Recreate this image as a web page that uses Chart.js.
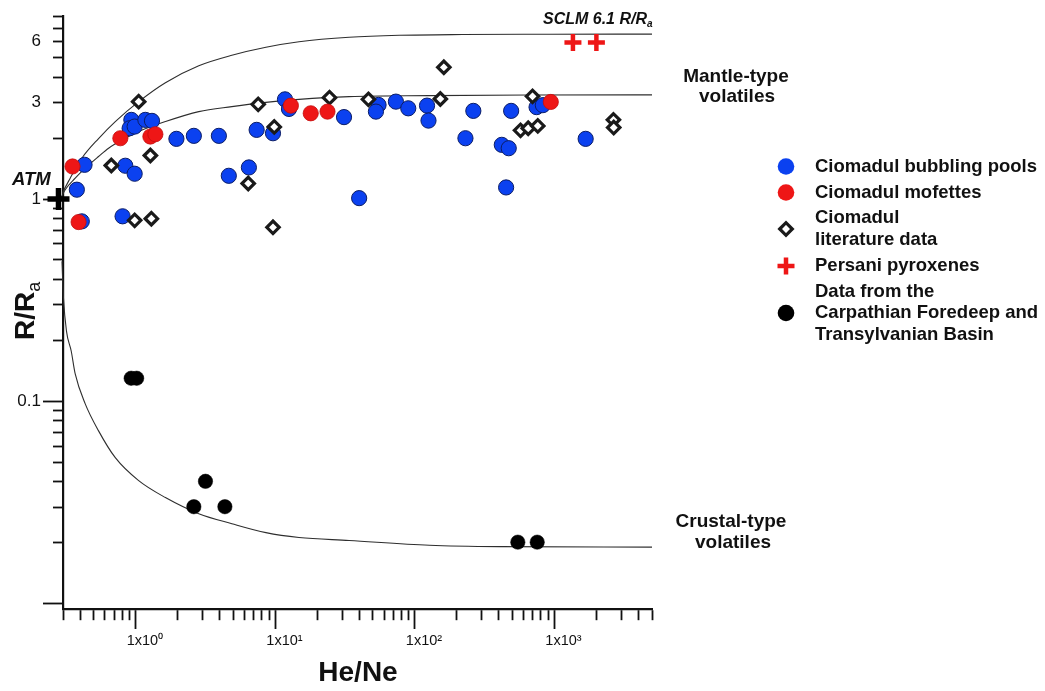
<!DOCTYPE html>
<html>
<head>
<meta charset="utf-8">
<script src="https://cdn.jsdelivr.net/npm/chart.js@4.4.1/dist/chart.umd.min.js"></script>
<style>
  html, body { margin: 0; padding: 0; background: #fff; }
  #wrap { position: relative; width: 1045px; height: 691px; }
</style>
</head>
<body>
<div id="wrap"><canvas id="chart"></canvas></div>
<script>
// He/Ne vs R/Ra values

// Ciomadul bubbling pools
const bubblingX = [0.428, 0.377, 0.409, 0.839, 0.979, 0.802, 0.927, 0.901, 0.979, 1.168, 1.303, 1.95, 2.60, 3.93, 4.63, 6.45, 7.33, 9.6, 11.7, 12.5, 31.0, 54.8, 52.5, 73.0, 89.5, 122, 125, 262, 230, 489, 419, 470, 450, 39.8, 744, 825, 1673];
const bubblingY = [1.478, 1.113, 0.776, 1.462, 1.335, 0.822, 2.465, 2.24, 2.284, 2.465, 2.437, 1.986, 2.055, 2.055, 1.304, 1.434, 2.2, 2.117, 3.114, 2.792, 2.544, 2.922, 2.708, 3.034, 2.812, 2.899, 2.445, 2.731, 2.0, 2.731, 1.855, 1.785, 1.142, 1.011, 2.85, 2.915, 1.986];

// Ciomadul mofettes
const mofetteX = [0.351, 0.388, 0.773, 1.269, 1.378, 12.9, 17.9, 23.6, 941];
const mofetteY = [1.45, 0.77, 2.0, 2.039, 2.093, 2.899, 2.657, 2.708, 3.023];

// Ciomadul literature data
const literatureX = [1.046, 0.666, 1.269, 0.979, 1.290, 7.52, 9.8, 6.38, 9.6, 24.4, 46.4, 152, 161, 696, 571, 648, 759, 2645, 2658];
const literatureY = [3.034, 1.466, 1.643, 0.785, 0.800, 2.942, 2.276, 1.195, 0.725, 3.175, 3.114, 3.128, 4.488, 3.222, 2.188, 2.24, 2.302, 2.465, 2.258];

// Persani pyroxenes
const persaniX = [1356, 1997];
const persaniY = [5.95, 5.95];

// Carpathian Foredeep and Transylvanian Basin
const basinX = [0.924, 1.012, 3.15, 2.60, 4.34, 546, 752];
const basinY = [0.130, 0.130, 0.0402, 0.0301, 0.0301, 0.0201, 0.0201];

// atmosphere
const atmX = [0.2785];
const atmY = [1];

// mixing curves
const sclmCurveX = [0.2877, 0.2973, 0.3379, 0.4093, 0.5395, 0.7112, 1.046, 1.626, 2.821, 4.870, 8.545, 14.75, 33.73, 77.13, 218.7, 922.2, 5000];
const sclmCurveY = [1, 1.067, 1.269, 1.593, 1.993, 2.417, 3.034, 3.765, 4.566, 5.145, 5.634, 5.998, 6.313, 6.458, 6.517, 6.539, 6.546];

const mantleCurveX = [0.2877, 0.3111, 0.3670, 0.4330, 0.5395, 0.6366, 0.8390, 1.046, 1.626, 2.821, 4.870, 8.545, 14.75, 33.73, 126.7, 662.4, 5000];
const mantleCurveY = [1, 1.113, 1.269, 1.422, 1.624, 1.785, 2.0, 2.158, 2.417, 2.708, 2.867, 3.010, 3.114, 3.212, 3.248, 3.273, 3.277];

const crustCurveX = [0.2877, 0.2902, 0.2950, 0.3024, 0.3177, 0.3435, 0.3670, 0.4330, 0.5395, 0.7112, 1.046, 1.626, 2.821, 4.870, 8.545, 14.75, 33.73, 126.7, 403.3, 5000];
const crustCurveY = [1, 0.693, 0.493, 0.3236, 0.2225, 0.1773, 0.1365, 0.0971, 0.0714, 0.0526, 0.0405, 0.0334, 0.0278, 0.0248, 0.0224, 0.0212, 0.0205, 0.0194, 0.0191, 0.0190];

// axis ticks
const xTickValues = [0.3, 0.4, 0.5, 0.6, 0.7, 0.8, 0.9, 1, 2, 3, 4, 5, 6, 7, 8, 9, 10, 20, 30, 40, 50, 60, 70, 80, 90, 100, 200, 300, 400, 500, 600, 700, 800, 900, 1000, 2000, 3000, 4000, 5000];
const xMajorTicks = [1, 10, 100, 1000];
const xTickLabels = ['1x10\u2070', '1x10\u00b9', '1x10\u00b2', '1x10\u00b3'];

const yTickValues = [0.01, 0.02, 0.03, 0.04, 0.05, 0.06, 0.07, 0.08, 0.09, 0.1, 0.2, 0.3, 0.4, 0.5, 0.6, 0.7, 0.8, 0.9, 1, 2, 3, 4, 5, 6, 7, 8];
const yMajorTicks = [0.01, 0.1, 1];
const yLabelTicks = [0.1, 1, 3, 6];
const yTickLabels = ['0.1', '1', '3', '6'];

const legendLabels = [
    ['Ciomadul bubbling pools'],
    ['Ciomadul mofettes'],
    ['Ciomadul', 'literature data'],
    ['Persani pyroxenes'],
    ['Data from the', 'Carpathian Foredeep and', 'Transylvanian Basin']
];

const BLUE = '#0b41f0';
const RED = '#ee1616';
const FONT = "'Liberation Sans', Arial, sans-serif";

Chart.defaults.font.family = FONT;

function pts(xs, ys) {
    return xs.map((x, i) => ({ x: x, y: ys[i] }));
}

function findIn(list, v) {
    return list.findIndex(m => Math.abs(v - m) < m * 1e-6);
}

// legend markers
const markerStyles = [
    { pointStyle: 'circle', radius: 8.3, fill: BLUE, stroke: BLUE, width: 0 },
    { pointStyle: 'circle', radius: 8.3, fill: RED, stroke: RED, width: 0 },
    { pointStyle: 'rectRot', radius: 6.3, fill: '#fff', stroke: '#1a1a1a', width: 3.2 },
    { pointStyle: 'cross', radius: 8.5, fill: RED, stroke: RED, width: 4.5 },
    { pointStyle: 'circle', radius: 8.3, fill: '#000', stroke: '#000', width: 0 }
];
const legendRows = [[166.5], [192.5], [218, 239.5], [266], [291.5, 313, 335]];
const legendMarkerY = [166.5, 192.5, 229, 266, 313];

function curve(xs, ys) {
    return {
        data: pts(xs, ys),
        showLine: true,
        borderColor: '#2e2e2e',
        borderWidth: 1.1,
        pointRadius: 0,
        cubicInterpolationMode: 'monotone',
        fill: false,
        clip: false
    };
}

// draw a string with a subscript tail
function subText(ctx, main, sub, x, y, font, subFont, drop) {
    ctx.font = font;
    ctx.textAlign = 'left';
    ctx.textBaseline = 'alphabetic';
    ctx.fillText(main, x, y);
    const w = ctx.measureText(main).width;
    ctx.font = subFont;
    ctx.fillText(sub, x + w, y + drop);
}

const annotations = {
    id: 'annotations',
    afterDraw(chart) {
        const ctx = chart.ctx;
        ctx.save();
        ctx.fillStyle = '#111';

        // y title
        ctx.save();
        ctx.translate(33.5, 340);
        ctx.rotate(-Math.PI / 2);
        subText(ctx, 'R/R', 'a', 0, 0, 'bold 28px ' + FONT, '18px ' + FONT, 6);
        ctx.restore();

        // x title
        ctx.font = 'bold 28px ' + FONT;
        ctx.textAlign = 'center';
        ctx.textBaseline = 'alphabetic';
        ctx.fillText('He/Ne', 358, 681);

        // ATM and SCLM labels
        ctx.textAlign = 'left';
        ctx.font = 'italic bold 18.5px ' + FONT;
        ctx.fillText('ATM', 12, 185);
        subText(ctx, 'SCLM 6.1 R/R', 'a', 543, 23.5, 'italic bold 16px ' + FONT, 'italic bold 10px ' + FONT, 3.5);

        // end-member labels
        ctx.font = 'bold 19px ' + FONT;
        ctx.textAlign = 'center';
        ctx.fillText('Mantle-type', 736, 81.5);
        ctx.fillText('volatiles', 737, 101.5);
        ctx.fillText('Crustal-type', 731, 527);
        ctx.fillText('volatiles', 733, 548);

        // legend
        ctx.font = 'bold 18.5px ' + FONT;
        ctx.textAlign = 'left';
        ctx.textBaseline = 'middle';
        legendLabels.forEach((lines, i) => {
            lines.forEach((t, j) => ctx.fillText(t, 815, legendRows[i][j]));
            const m = markerStyles[i];
            ctx.fillStyle = m.fill;
            ctx.strokeStyle = m.stroke;
            ctx.lineWidth = m.width;
            Chart.helpers.drawPoint(ctx, { pointStyle: m.pointStyle, radius: m.radius, rotation: 0, borderWidth: m.width }, 786, legendMarkerY[i]);
            ctx.fillStyle = '#111';
        });
        ctx.restore();
    }
};

new Chart(document.getElementById('chart'), {
    type: 'scatter',
    data: {
        datasets: [
            { label: 'Ciomadul mofettes', data: pts(mofetteX, mofetteY), pointStyle: 'circle', pointRadius: 7.6, backgroundColor: RED, borderColor: '#c40d0d', borderWidth: 0.8 },
            { label: 'Ciomadul literature data', data: pts(literatureX, literatureY), pointStyle: 'rectRot', pointRadius: 6.2, backgroundColor: '#fff', borderColor: '#1a1a1a', borderWidth: 3.2 },
            { label: 'Ciomadul bubbling pools', data: pts(bubblingX, bubblingY), pointStyle: 'circle', pointRadius: 7.6, backgroundColor: BLUE, borderColor: '#0b1d66', borderWidth: 1 },
            { label: 'Persani pyroxenes', data: pts(persaniX, persaniY), pointStyle: 'cross', pointRadius: 8.5, borderColor: RED, borderWidth: 4.5 },
            { label: 'Carpathian Foredeep and Transylvanian Basin', data: pts(basinX, basinY), pointStyle: 'circle', pointRadius: 7.2, backgroundColor: '#000', borderColor: '#000', borderWidth: 0.5 },
            { label: 'ATM', data: pts(atmX, atmY), pointStyle: 'cross', pointRadius: 11, borderColor: '#000', borderWidth: 5.5, clip: false },
            Object.assign({ label: 'SCLM' }, curve(sclmCurveX, sclmCurveY)),
            Object.assign({ label: 'Mantle' }, curve(mantleCurveX, mantleCurveY)),
            Object.assign({ label: 'Crust' }, curve(crustCurveX, crustCurveY))
        ]
    },
    options: {
        responsive: true,
        maintainAspectRatio: false,
        animation: false,
        events: [],
        layout: { padding: { top: 15, right: 393, left: 0, bottom: 0 } },
        plugins: { legend: { display: false }, tooltip: { enabled: false } },
        scales: {
            x: {
                type: 'logarithmic',
                position: 'bottom',
                min: 0.3,
                max: 5000,
                bounds: 'data',
                afterBuildTicks: s => { s.ticks = xTickValues.map(v => ({ value: v })); },
                afterFit: s => { s.height = 82; },
                grid: {
                    drawOnChartArea: false,
                    tickLength: 20,
                    tickColor: '#111',
                    tickWidth: 1.8,
                    tickBorderDash: c => findIn(xMajorTicks, c.tick.value) >= 0 ? [] : [10, 40]
                },
                border: { display: true, color: '#111', width: 2.2 },
                ticks: {
                    autoSkip: false,
                    maxRotation: 0,
                    minRotation: 0,
                    padding: 3,
                    labelOffset: 9,
                    color: '#111',
                    font: { size: 14.5 },
                    callback: v => {
                        const i = findIn(xMajorTicks, v);
                        return i >= 0 ? xTickLabels[i] : '';
                    }
                }
            },
            y: {
                type: 'logarithmic',
                position: 'left',
                min: 0.00939,
                max: 8,
                bounds: 'data',
                afterBuildTicks: s => { s.ticks = yTickValues.map(v => ({ value: v })); },
                afterFit: s => { s.width = 63; },
                grid: {
                    drawOnChartArea: false,
                    tickLength: 20,
                    tickColor: '#111',
                    tickWidth: 1.8,
                    tickBorderDash: c => findIn(yMajorTicks, c.tick.value) >= 0 ? [] : [10, 10],
                    tickBorderDashOffset: c => findIn(yMajorTicks, c.tick.value) >= 0 ? 0 : 10
                },
                border: { display: true, color: '#111', width: 2.2 },
                ticks: {
                    autoSkip: false,
                    padding: 2,
                    color: '#111',
                    font: { size: 17 },
                    callback: v => {
                        const i = findIn(yLabelTicks, v);
                        return i >= 0 ? yTickLabels[i] : '';
                    }
                }
            }
        }
    },
    plugins: [annotations]
});
</script>
</body>
</html>
